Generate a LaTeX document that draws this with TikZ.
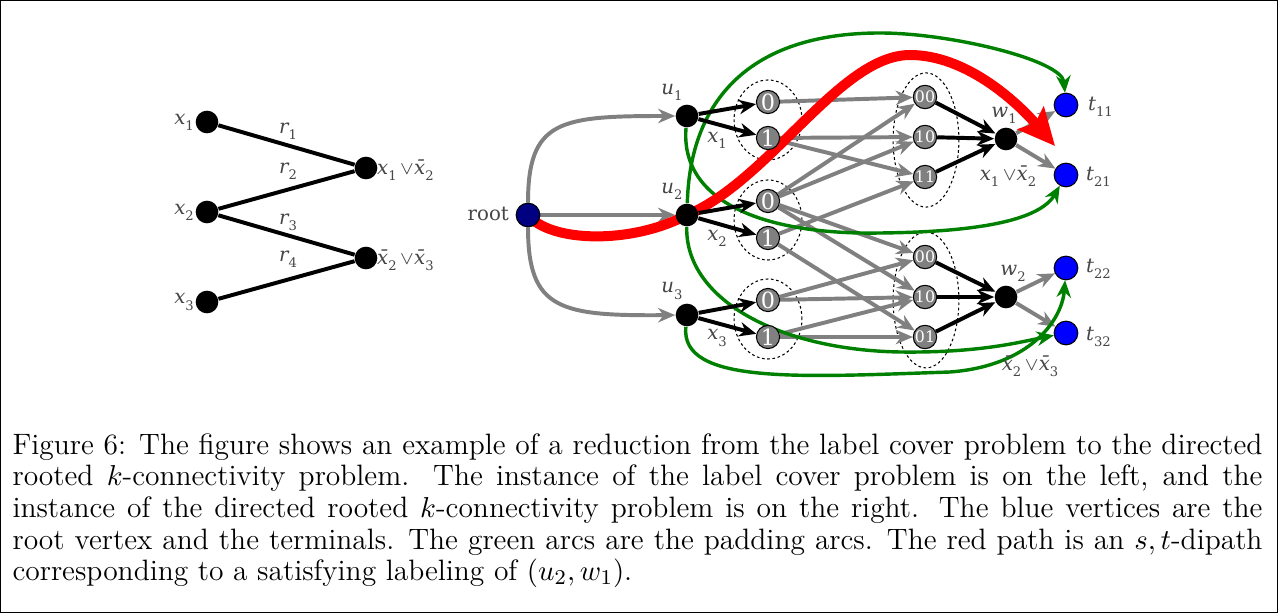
\documentclass[tikz,border=0pt]{standalone}
\usepackage{fontspec}
\newfontfamily\figfont{DejaVu Serif}
\usetikzlibrary{arrows.meta,backgrounds}
\definecolor{labgray}{RGB}{70,70,70}
\definecolor{rootblue}{RGB}{0,0,128}
\definecolor{padgreen}{RGB}{0,128,0}
\newcommand{\sub}[1]{\raisebox{-0.6ex}{\fontsize{5}{5}\selectfont #1}}
\newcommand{\iv}[2]{{\itshape #1}\sub{#2}}
\newcommand{\nv}[2]{{\itshape\={#1}}\sub{#2}}
\newcommand{\vor}{\,$\vee$}
\begin{document}
\begin{tikzpicture}[x=0.38pt,y=-0.38pt,
	dot/.style={circle,fill=black,inner sep=0pt,minimum size=8.6pt},
	term/.style={circle,draw=black,fill=blue,inner sep=0pt,minimum size=9pt,line width=0.4pt},
	lab/.style={circle,draw=black,fill=gray,text=white,inner sep=0pt,minimum size=8.8pt,line width=0.4pt,font=\figfont\fontsize{8.5}{9}\selectfont},
	lab2/.style={lab,font=\figfont\fontsize{6}{6}\selectfont},
	txt/.style={text=labgray,inner sep=1pt,font=\figfont\fontsize{7.5}{9}\selectfont},
	grayarc/.style={draw=gray,line width=1.5pt,-{Stealth[length=6.5pt,width=5.5pt]}},
	blackarc/.style={draw=black,line width=1.5pt,-{Stealth[length=6.5pt,width=5.5pt]}},
	padarc/.style={draw=padgreen,line width=1.3pt,-{Stealth[length=6.5pt,width=5.5pt]}},
	redpath/.style={draw=red,line width=3.8pt,-{Stealth[length=14pt,width=13pt,inset=2.5pt]}},
	grp/.style={draw=black,line width=0.4pt,dash pattern=on 1pt off 1pt}]
	\useasboundingbox (0,0) rectangle (1278,613);
	\draw[line width=0.5pt] (0.7,0.7) rectangle (1277.3,612.3);
	
	% label cover instance
	\node[dot] (x1) at (207,122) {};
	\node[dot] (x2) at (207,212) {};
	\node[dot] (x3) at (207,302) {};
	\node[dot] (c1) at (366,168) {};
	\node[dot] (c2) at (366,258) {};
	\node[txt,anchor=east] at (197,122) {\iv{x}{1}};
	\node[txt,anchor=east] at (197,212) {\iv{x}{2}};
	\node[txt,anchor=east] at (197,302) {\iv{x}{3}};
	\node[txt] at (288,131) {\iv{r}{1}};
	\node[txt] at (288,171) {\iv{r}{2}};
	\node[txt] at (288,222) {\iv{r}{3}};
	\node[txt] at (288,259) {\iv{r}{4}};
	\node[txt,anchor=west] at (374,170) {\iv{x}{1}\vor\nv{x}{2}};
	\node[txt,anchor=west] at (374,260) {\nv{x}{2}\vor\nv{x}{3}};
	\foreach \from/\to in {x1/c1,x2/c1,x2/c2,x3/c2}
	\draw[line width=1.5pt] (\from) -- (\to);
	
	% rooted k-connectivity instance
	\node[circle,draw=black,fill=rootblue,inner sep=0pt,minimum size=9pt,line width=0.4pt] (root) at (528,215) {};
	\node[txt,anchor=east] at (512,214) {root};
	\node[dot] (u1) at (687,116) {};
	\node[dot] (u2) at (687,215) {};
	\node[dot] (u3) at (687,315) {};
	\node[txt] at (672,92) {\iv{u}{1}};
	\node[txt] at (672,191) {\iv{u}{2}};
	\node[txt] at (672,291) {\iv{u}{3}};
	\node[txt] at (717,140) {\iv{x}{1}};
	\node[txt] at (717,238) {\iv{x}{2}};
	\node[txt] at (717,338) {\iv{x}{3}};
	\node[lab] (a10) at (768,102) {0};
	\node[lab] (a11) at (768,138) {1};
	\node[lab] (a20) at (768,201) {0};
	\node[lab] (a21) at (768,238) {1};
	\node[lab] (a30) at (768,300) {0};
	\node[lab] (a31) at (768,337) {1};
	\node[lab2] (b00) at (925,97) {00};
	\node[lab2] (b10) at (925,137) {10};
	\node[lab2] (b11) at (925,177) {11};
	\node[lab2] (c00) at (925,257) {00};
	\node[lab2] (c10) at (925,297) {10};
	\node[lab2] (c01) at (925,337) {01};
	\node[dot] (w1) at (1006,139) {};
	\node[dot] (w2) at (1006,297) {};
	\node[txt] at (1004,115) {\iv{w}{1}};
	\node[txt] at (1008,176) {\iv{x}{1}\vor\nv{x}{2}};
	\node[txt] at (1013,273) {\iv{w}{2}};
	\node[txt] at (1030,366) {\nv{x}{2}\vor\nv{x}{3}};
	\node[term] (t11) at (1066,105) {};
	\node[term] (t21) at (1066,175) {};
	\node[term] (t22) at (1066,268) {};
	\node[term] (t32) at (1066,333) {};
	\node[txt,anchor=west] at (1085,107) {\iv{t}{11}};
	\node[txt,anchor=west] at (1083,177) {\iv{t}{21}};
	\node[txt,anchor=west] at (1083,269) {\iv{t}{22}};
	\node[txt,anchor=west] at (1083,337) {\iv{t}{32}};
	\coordinate (redend) at (1055,146);
	
	\begin{scope}[on background layer]
	\draw[grp] (768,120) ellipse [x radius=12.9pt, y radius=15.2pt];
	\draw[grp] (768,220) ellipse [x radius=12.9pt, y radius=15.2pt];
	\draw[grp] (768,319) ellipse [x radius=12.9pt, y radius=15.2pt];
	\draw[grp] (926,140) ellipse [x radius=12.5pt, y radius=25.5pt];
	\draw[grp] (926,300) ellipse [x radius=12.5pt, y radius=25.8pt];
	
	\draw[grayarc] (root) .. controls (528,120) and (560,116) .. (u1);
	\draw[grayarc] (root) -- (u2);
	\draw[grayarc] (root) .. controls (528,310) and (560,316) .. (u3);
	\foreach \from/\to in {a10/b00,a11/b10,a11/b11,a20/b00,a20/b10,a21/b11,a20/c00,a20/c10,a21/c01,a30/c00,a30/c10,a31/c10,a31/c01,w1/t11,w1/t21,w2/t22,w2/t32}
	\draw[grayarc] (\from) -- (\to);
	
	% padding arcs
	\draw[padarc] (u2) .. controls (690,100) and (750,33) .. (880,33) .. controls (950,33) and (1062,60) .. (t11);
	\draw[padarc] (u1) .. controls (680,200) and (760,235) .. (880,233) .. controls (980,232) and (1040,220) .. (t21);
	\draw[padarc] (u2) .. controls (685,300) and (780,350) .. (900,352) .. controls (980,353) and (1020,342) .. (t32);
	\draw[padarc] (u3) .. controls (680,385) and (800,377) .. (950,372) .. controls (1030,366) and (1062,320) .. (t22);
	
	\draw[redpath] (root.center) .. controls (550,242) and (630,245) .. (u2.center) .. controls (770,180) and (840,55) .. (910,55) .. controls (965,55) and (1015,100) .. (redend);
	
	\foreach \from/\to in {u1/a10,u1/a11,u2/a20,u2/a21,u3/a30,u3/a31,b00/w1,b10/w1,b11/w1,c00/w2,c10/w2,c01/w2}
	\draw[blackarc] (\from) -- (\to);
	\end{scope}
	
	\node[anchor=north west,inner sep=0pt,text width=475pt,align=justify,font=\fontsize{11.2}{12}\selectfont] (cap) at (12,433) {Figure 6: The figure shows an example of a reduction from the label cover problem to the directed\linebreak rooted $k$-connectivity problem. The instance of the label cover problem is on the left, and the\linebreak instance of the directed rooted $k$-connectivity problem is on the right. The blue vertices are the\linebreak root vertex and the terminals. The green arcs are the padding arcs. The red path is an $s,t$-dipath\linebreak corresponding to a satisfying labeling of $(u_2,w_1)$.};
\end{tikzpicture}
\end{document}
